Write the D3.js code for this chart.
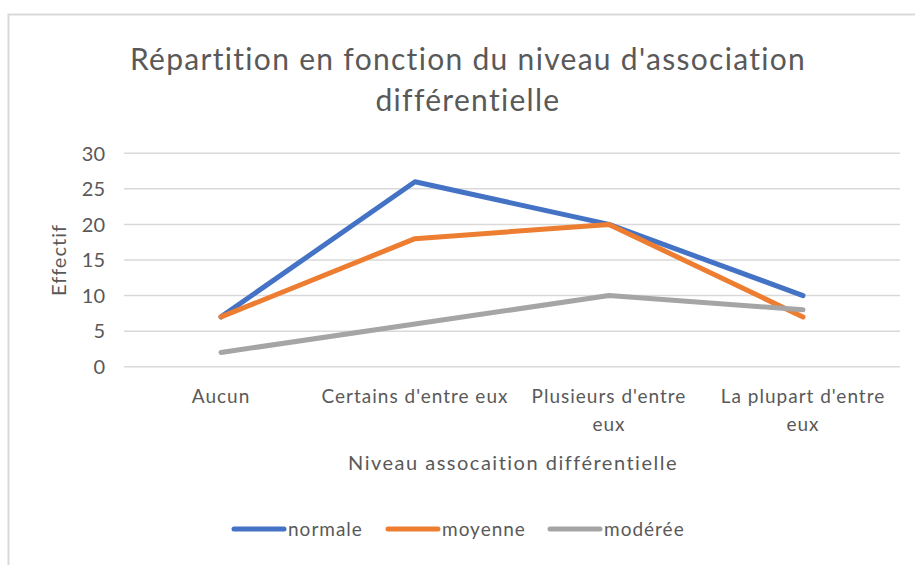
<!DOCTYPE html>
<html>
<head>
<meta charset="utf-8">
<script src="https://d3js.org/d3.v7.min.js"></script>
<style>
  body { margin: 0; background: #fff; }
  text { font-family: Lato, "Open Sans", sans-serif; fill: #595959; }
</style>
</head>
<body>
<svg width="915" height="565"></svg>
<script>
    const categories = [["Aucun"], ["Certains d'entre eux"], ["Plusieurs d'entre", "eux"], ["La plupart d'entre", "eux"]];
    const seriesNames = ["normale", "moyenne", "modérée"];
    const normale = [7, 26, 20, 10];
    const moyenne = [7, 18, 20, 7];
    const moderee = [2, 6, 10, 8];
    const colors = ["#4472c4", "#ed7d31", "#a5a5a5"];
    const yTicks = [0, 5, 10, 15, 20, 25, 30];

    const svg = d3.select('svg');

    // chart frame
    svg.append('rect')
        .attr('x', 8.5).attr('y', 14.5)
        .attr('width', 1000).attr('height', 600)
        .attr('fill', 'none').attr('stroke', '#d9d9d9').attr('stroke-width', 2);

    var xs = d3.scaleBand().domain(d3.range(categories.length)).range([124, 900]);
    var ys = d3.scaleLinear().domain([0, 30]).range([366.7, 153.3]);

    // grid lines
    svg.append('g').selectAll('line').data(yTicks).enter().append('line')
        .attr('x1', 124).attr('x2', 900)
        .attr('y1', function (d) { return ys(d); })
        .attr('y2', function (d) { return ys(d); })
        .attr('stroke', '#d9d9d9').attr('stroke-width', 1.5);

    // y axis labels
    svg.append('g')
        .attr('transform', 'translate(105,0)')
        .call(d3.axisLeft(ys).tickValues(yTicks).tickSize(0).tickPadding(0))
        .call(function (g) { g.select('.domain').remove(); })
        .selectAll('text')
        .style('font-family', 'Lato, sans-serif')
        .style('font-size', '20px')
        .attr('fill', '#595959')
        .attr('dy', '0.34em');

    // x axis labels
    var xl = svg.append('g').selectAll('text').data(categories).enter().append('text')
        .attr('text-anchor', 'middle')
        .style('font-size', '19px')
        .style('letter-spacing', '1px')
        .attr('x', function (d, i) { return xs(i) + xs.bandwidth() / 2; })
        .attr('y', 403);
    xl.selectAll('tspan').data(function (d) { return d; }).enter().append('tspan')
        .attr('x', function () { return d3.select(this.parentNode).attr('x'); })
        .attr('dy', function (d, i) { return i == 0 ? 0 : 28; })
        .text(function (d) { return d; });

    // lines
    var allSeries = [normale, moyenne, moderee];
    var line = d3.line()
        .x(function (d, i) { return xs(i) + xs.bandwidth() / 2; })
        .y(function (d) { return ys(d); });
    svg.append('g').selectAll('path').data(allSeries).enter().append('path')
        .attr('d', line)
        .attr('fill', 'none')
        .attr('stroke', function (d, i) { return colors[i]; })
        .attr('stroke-width', 5)
        .attr('stroke-linecap', 'round')
        .attr('stroke-linejoin', 'round');

    // title
    svg.append('text')
        .attr('x', 468).attr('y', 70)
        .attr('text-anchor', 'middle')
        .style('font-size', '30px')
        .style('letter-spacing', '1.3px')
        .text("Répartition en fonction du niveau d'association");
    svg.append('text')
        .attr('x', 468).attr('y', 111)
        .attr('text-anchor', 'middle')
        .style('font-size', '30px')
        .style('letter-spacing', '1.3px')
        .text("différentielle");

    // axis titles
    svg.append('text')
        .attr('transform', 'translate(66,260) rotate(-90)')
        .attr('text-anchor', 'middle')
        .style('font-size', '20px')
        .style('letter-spacing', '1px')
        .text('Effectif');
    svg.append('text')
        .attr('x', 513).attr('y', 470)
        .attr('text-anchor', 'middle')
        .style('font-size', '20px')
        .style('letter-spacing', '1.5px')
        .text('Niveau assocaition différentielle');

    // legend
    var legX = [234, 388, 550];
    var leg = svg.append('g').selectAll('g').data(seriesNames).enter().append('g')
        .attr('transform', function (d, i) { return 'translate(' + legX[i] + ',529)'; });
    leg.append('line')
        .attr('x1', 0).attr('x2', 50)
        .attr('stroke', function (d, i) { return colors[i]; })
        .attr('stroke-width', 5)
        .attr('stroke-linecap', 'round');
    leg.append('text')
        .attr('x', 54).attr('dy', '0.35em')
        .style('font-size', '19px')
        .style('letter-spacing', '1px')
        .text(function (d) { return d; });
</script>
</body>
</html>
